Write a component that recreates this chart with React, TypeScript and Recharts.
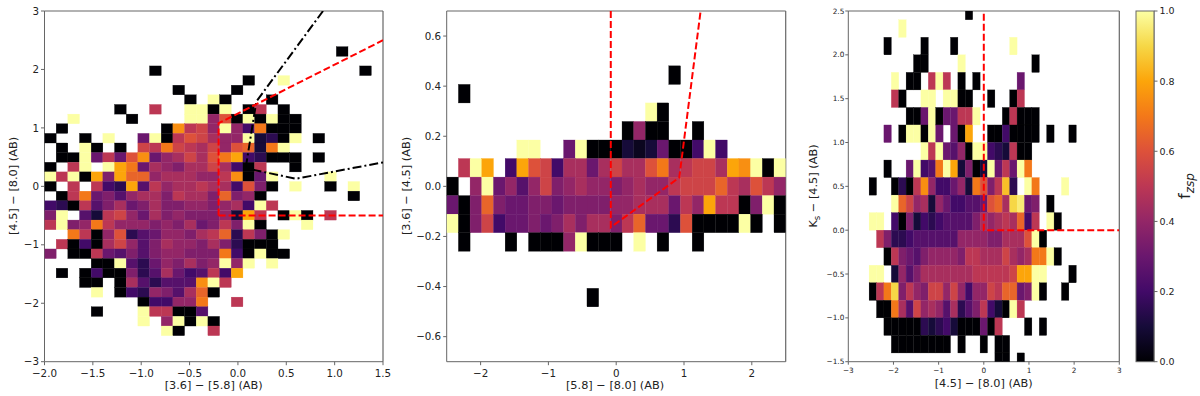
import { ScatterChart, Scatter, XAxis, YAxis, Label, ReferenceLine } from "recharts";

// cell values, one letter per bin: a = 0.00, b = 0.05 ... u = 1.00, "." = empty bin
const levels = "abcdefghijklmnopqrstu";

// rows run top to bottom, first row is bin index topRow
const leftRows = [
  ".........................a...",
  ".............................",
  ".........a.................a.",
  ".................a..u........",
  "...........a....a............",
  "............a.ua...a.........",
  "......a..k..uuau.ak.a........",
  "..u....a....uuimauauaa.......",
  ".a........apkliuieoaaa.......",
  "a..a.u..guakmljiiucdau.a.....",
  ".a.ua.a.lkolkjlimncou........",
  ".aaugkgmpgijljmoqedaaa.a.....",
  "a.ku.uqogjihjjljeak..a.......",
  "ukuaqhqnnijjjiikpagu....u....",
  "a.k.kedqfkijjkjjemha.u..a.u..",
  ".akoghfijjhkjjhnhia.......a..",
  "edakfhjghjhhiihijeuk.........",
  "hu.fckligjhihhhicqk.aua.k....",
  "kuhiokiiihihjghkhua...u......",
  "..okaimdfgiihjkndkhau........",
  ".kaeajlifhjiihjhdaaa.........",
  "h.aakgfhfhiihhhoeauaa........",
  "....aaufdgihjhiuiu.u.........",
  ".a.aeaahdfjgefkeq............",
  "...aa.ajfdfffpuk.............",
  "....u.aedihfjna..............",
  "........aeeiio..k............",
  "....a...ukkaaf...............",
  "........u.iuaua..............",
  "..........ua..k..............",
];

const middleRows = [
  "...................a",
  ".a",
  ".................ua",
  "...............aiaa..a",
  "......uu..guaaacbcgaaeue",
  ".kuq.eqmlejjgjljjmojklljqpuau",
  "a.iugifilhijiihijiiklllnkjmki",
  "gahnhgghhghhhhiijjjgkiqkkahua",
  "uahlegghghjhjjhknggdmaaaaua.a",
  ".a...a.aaaiuaaa.u.a..a",
  "",
  "",
  "............a",
];

const rightRows = [
  ".............a",
  "....u",
  "..a....a...a.......u",
  "......aa....u.........a",
  "...u.aa.kuk.a.a.....g",
  "...ka..uu.uuaa..a..ak",
  ".....aaguaggkku...akaaa",
  "..g.auuaug.gaq..aaeaaaa.a..a",
  ".......ukugfiauuedckaa",
  "..a..guefouqchacugkguo",
  "a..adakpieegicomhkrd.uo...u",
  "...unlijcigeeffgmnjstgh.a",
  "uu.eahcedeffffhjijkjnek.ua",
  ".khddeffffffiiiihhjjjmua",
  "..akhgfhiiiihkkjjjljijooua",
  "uu.cifhjjjjjjjkkkkklqquu...a",
  "akoshkihllilieiilknnghua..a",
  ".aaojflijifjdfhkecauk",
  "..aaaaadcdecaaagak...a.a",
  "...aaaaaaaa.a..a.aa",
  ".................aa.a",
];

// region boundaries and colour-selection lines
const leftRedLine = [
  { x: -0.2, y: -0.5 }, { x: -0.2, y: 1.08 }, { x: 1.5, y: 2.5 },
];
const leftRedFloor = [
  { x: -0.2, y: -0.5 }, { x: 1.5, y: -0.5 },
];
const leftBlackLine = [
  { x: 0.88, y: 3 }, { x: 0.19, y: 1.45 }, { x: 0.08, y: 0.31 }, { x: 0.6, y: 0.13 }, { x: 1.5, y: 0.41 },
];
const middleRedLine = [
  { x: -0.08, y: 0.7 }, { x: -0.08, y: -0.163 }, { x: 0.93, y: 0.035 }, { x: 1.245, y: 0.7 },
];
const rightRedLine = [
  { x: 0, y: 2.47 }, { x: 0, y: 0 }, { x: 3, y: 0 },
];

const leftXTicks = [-2, -1.5, -1, -0.5, 0, 0.5, 1, 1.5];
const leftYTicks = [-3, -2, -1, 0, 1, 2, 3];
const middleXTicks = [-2, -1, 0, 1, 2];
const middleYTicks = [-0.6, -0.4, -0.2, 0, 0.2, 0.4, 0.6];
const rightXTicks = [-3, -2, -1, 0, 1, 2, 3];
const rightYTicks = [-1.5, -1, -0.5, 0, 0.5, 1, 1.5, 2, 2.5];
const barTicks = [0, 0.2, 0.4, 0.6, 0.8, 1];
const barMiddle = [{ x: 0.5, y: 0.5 }];

const inferno = ["#000004", "#160b39", "#420a68", "#6a176e", "#932667", "#bc3754", "#dd513a", "#f37819", "#fca50a", "#f6d746", "#fcffa4"];

const FONT = "'DejaVu Sans', sans-serif";
const SPINE = "#666666";
const RED = "#ff0000";
const PLOT_TOP = 11;
const PLOT_BOTTOM = 361.7;
const TITLE_SIZE = 11.3;

const hex = (c: string, i: number) => parseInt(c.slice(i, i + 2), 16);

const colorOf = (v: number) => {
  const p = Math.min(v * 10, 9.999);
  const i = Math.floor(p);
  const t = p - i;
  const a = inferno[i];
  const b = inferno[i + 1];
  const mix = (k: number) => Math.round(hex(a, k) + (hex(b, k) - hex(a, k)) * t);
  return `rgb(${mix(1)},${mix(3)},${mix(5)})`;
};

const buildCells = (
  rows: string[],
  topRow: number,
  xStart: number,
  binW: number,
  rowCentre: (k: number) => number,
) =>
  rows.flatMap((row, r) =>
    row.split("").flatMap((ch, c) => {
      const lvl = levels.indexOf(ch);
      if (lvl < 0) return [];
      return [{ x: xStart + (c + 0.5) * binW, y: rowCentre(topRow - r), color: colorOf(lvl / 20) }];
    }),
  );

const cellShape = (w: number, h: number) => (props: any) => (
  <rect
    x={props.cx - w / 2}
    y={props.cy - h / 2}
    width={w}
    height={h}
    fill={props.payload.color}
    stroke={props.payload.color}
    strokeWidth={0.3}
  />
);

const barShape = (props: any) => (
  <rect
    x={props.cx - 9}
    y={props.cy - (PLOT_BOTTOM - PLOT_TOP) / 2}
    width={18}
    height={PLOT_BOTTOM - PLOT_TOP}
    fill="url(#infernoBar)"
    stroke={SPINE}
    strokeWidth={1}
  />
);

const noDot = () => <g />;

const plainFmt = (v: number) => String(v).replace("-", "\u2212");
const oneDec = (v: number) => v.toFixed(1).replace("-", "\u2212");

const xTitle = (x: number, y: number, text: string) => () => (
  <text x={x} y={y} textAnchor="middle" fontFamily={FONT} fontSize={TITLE_SIZE} fill="#222">
    {text}
  </text>
);

const yTitle = (x: number, text: any) => () => (
  <text
    x={x}
    y={186}
    textAnchor="middle"
    fontFamily={FONT}
    fontSize={TITLE_SIZE}
    fill="#222"
    transform={`rotate(-90 ${x} 186)`}
  >
    {text}
  </text>
);

const frame = (xMax: number, yMax: number) => [
  <ReferenceLine key="top" y={yMax} stroke={SPINE} strokeWidth={1.2} />,
  <ReferenceLine key="right" x={xMax} stroke={SPINE} strokeWidth={1.2} />,
];

const tickFont = (size: number) => ({ fontSize: size, fontFamily: FONT, fill: "#222" });

const LeftPanel = () => {
  const plotW = 338.5;
  const plotH = PLOT_BOTTOM - PLOT_TOP;
  const binW = 3.5 / 29;
  const binH = 0.1648;
  const cells = buildCells(leftRows, 14, -2, binW, (k) => k * binH);
  return (
    <div style={{ position: "absolute", left: 0, top: 0 }}>
      <ScatterChart width={395} height={396} margin={{ top: PLOT_TOP, bottom: 0, left: 4.5, right: 12 }}>
        <XAxis type="number" dataKey="x" domain={[-2, 1.5]} ticks={leftXTicks} allowDataOverflow height={34.3} interval={0}
          tickFormatter={oneDec} tick={tickFont(10.3)} tickSize={3.5} tickMargin={4} stroke={SPINE}>
          <Label content={xTitle(213.7, 389, "[3.6] \u2212 [5.8] (AB)")} />
        </XAxis>
        <YAxis type="number" dataKey="y" domain={[-3, 3]} ticks={leftYTicks} allowDataOverflow width={40} interval={0}
          tickFormatter={plainFmt} tick={tickFont(10.3)} tickSize={3.5} tickMargin={2} stroke={SPINE}>
          <Label content={yTitle(17, "[4.5] \u2212 [8.0] (AB)")} />
        </YAxis>
        <Scatter data={cells} shape={cellShape((binW * plotW) / 3.5, (binH * plotH) / 6)} isAnimationActive={false} />
        <Scatter data={leftBlackLine} line={{ stroke: "#000", strokeWidth: 2, strokeDasharray: "9 3 2 3" }} shape={noDot} isAnimationActive={false} />
        <Scatter data={leftRedLine} line={{ stroke: RED, strokeWidth: 2, strokeDasharray: "7 3" }} shape={noDot} isAnimationActive={false} />
        <Scatter data={leftRedFloor} line={{ stroke: RED, strokeWidth: 2, strokeDasharray: "7 3" }} shape={noDot} isAnimationActive={false} />
        {frame(1.5, 3)}
      </ScatterChart>
    </div>
  );
};

const MiddlePanel = () => {
  const plotW = 339;
  const plotH = PLOT_BOTTOM - PLOT_TOP;
  const binW = 5 / 29;
  const binH = 0.074;
  const cells = buildCells(middleRows, 6, -2.5, binW, (k) => k * binH);
  return (
    <div style={{ position: "absolute", left: 396, top: 0 }}>
      <ScatterChart width={404} height={396} margin={{ top: PLOT_TOP, bottom: 0, left: 10.7, right: 14.3 }}>
        <XAxis type="number" dataKey="x" domain={[-2.5, 2.5]} ticks={middleXTicks} allowDataOverflow height={34.3} interval={0}
          tickFormatter={plainFmt} tick={tickFont(10.3)} tickSize={3.5} tickMargin={4} stroke={SPINE}>
          <Label content={xTitle(219, 389, "[5.8] \u2212 [8.0] (AB)")} />
        </XAxis>
        <YAxis type="number" dataKey="y" domain={[-0.7, 0.7]} ticks={middleYTicks} allowDataOverflow width={40} interval={0}
          tickFormatter={oneDec} tick={tickFont(10.3)} tickSize={3.5} tickMargin={2} stroke={SPINE}>
          <Label content={yTitle(14, "[3.6] \u2212 [4.5] (AB)")} />
        </YAxis>
        <Scatter data={cells} shape={cellShape((binW * plotW) / 5, (binH * plotH) / 1.4)} isAnimationActive={false} />
        <Scatter data={middleRedLine} line={{ stroke: RED, strokeWidth: 2, strokeDasharray: "7 3" }} shape={noDot} isAnimationActive={false} />
        {frame(2.5, 0.7)}
      </ScatterChart>
    </div>
  );
};

const RightPanel = () => {
  const plotW = 271;
  const plotH = PLOT_BOTTOM - PLOT_TOP;
  const binW = 0.1638;
  const binH = 0.2;
  const cells = buildCells(rightRows, 12, -2.539, binW, (k) => (k + 0.5) * binH);
  return (
    <div style={{ position: "absolute", left: 802, top: 0 }}>
      <ScatterChart width={331} height={396} margin={{ top: PLOT_TOP, bottom: 0, left: 6.3, right: 13.7 }}>
        <XAxis type="number" dataKey="x" domain={[-3, 3]} ticks={rightXTicks} allowDataOverflow height={34.3} interval={0}
          tickFormatter={plainFmt} tick={tickFont(7.3)} tickSize={3} tickMargin={3} stroke={SPINE}>
          <Label content={xTitle(181.7, 387, "[4.5] \u2212 [8.0] (AB)")} />
        </XAxis>
        <YAxis type="number" dataKey="y" domain={[-1.5, 2.5]} ticks={rightYTicks} allowDataOverflow width={40} interval={0}
          tickFormatter={oneDec} tick={tickFont(7.3)} tickSize={3} tickMargin={1} stroke={SPINE}>
          <Label
            content={yTitle(
              15,
              <>
                K<tspan dy={3} fontSize={8.5}>s</tspan>
                <tspan dy={-3}> {"\u2212 [4.5] (AB)"}</tspan>
              </>,
            )}
          />
        </YAxis>
        <Scatter data={cells} shape={cellShape((binW * plotW) / 6, (binH * plotH) / 4)} isAnimationActive={false} />
        <Scatter data={rightRedLine} line={{ stroke: RED, strokeWidth: 2, strokeDasharray: "7 3" }} shape={noDot} isAnimationActive={false} />
        {frame(3, 2.5)}
      </ScatterChart>
    </div>
  );
};

const ColorBar = () => (
  <div style={{ position: "absolute", left: 1125, top: 0 }}>
    <ScatterChart width={75} height={396} margin={{ top: PLOT_TOP, bottom: 34.3, left: 11, right: 0 }}>
      <defs>
        <linearGradient id="infernoBar" x1="0" y1="1" x2="0" y2="0">
          {inferno.map((c, i) => (
            <stop key={c} offset={`${i * 10}%`} stopColor={c} />
          ))}
        </linearGradient>
      </defs>
      <XAxis type="number" dataKey="x" domain={[0, 1]} hide />
      <YAxis type="number" dataKey="y" orientation="right" domain={[0, 1]} ticks={barTicks} width={46} interval={0}
        tickFormatter={oneDec} tick={tickFont(9.5)} tickSize={3.5} tickMargin={2} stroke={SPINE}>
        <Label
          content={() => (
            <text x={65} y={186} textAnchor="middle" fontFamily={FONT} fontSize={16} fill="#222" transform="rotate(-90 65 186)">
              f<tspan dy={4} fontSize={12} fontStyle="italic">zsp</tspan>
            </text>
          )}
        />
      </YAxis>
      <Scatter data={barMiddle} shape={barShape} isAnimationActive={false} />
    </ScatterChart>
  </div>
);

export default function App() {
  return (
    <div style={{ position: "absolute", left: 0, top: 0, width: 1200, height: 396, background: "#fff" }}>
      <LeftPanel />
      <MiddlePanel />
      <RightPanel />
      <ColorBar />
    </div>
  );
}
